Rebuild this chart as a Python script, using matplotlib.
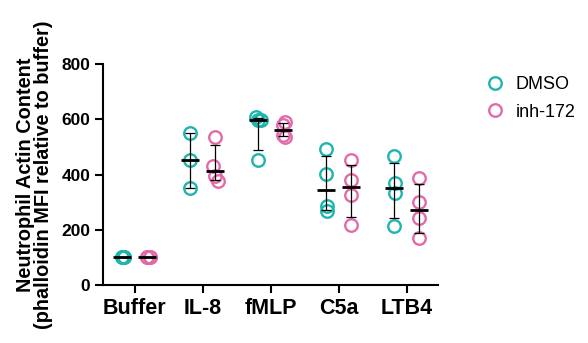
import numpy as np
import matplotlib
matplotlib.use('Agg')
from matplotlib import pyplot as plt

plt.rcParams['font.family'] = ['Liberation Sans', 'DejaVu Sans']

categories = ['Buffer', 'IL-8', 'fMLP', 'C5a', 'LTB4']
dmso = [[100, 100, 100, 100],
        [549, 453, 351],
        [453, 596, 599, 608],
        [491, 401, 287, 269],
        [467, 369, 335, 212]]
inh172 = [[100, 100, 100, 100],
          [535, 430, 394, 375],
          [590, 578, 545, 537],
          [453, 381, 326, 218],
          [387, 299, 242, 170]]

teal = '#1db5ad'
pink = '#e36aa8'


def spread(vals, thresh=45, step=0.035):
    # clusters of overlapping circles get fanned out round the centre
    vals = np.asarray(vals, float)
    order = np.argsort(vals)
    offs = np.zeros(len(vals))
    clusters = [[order[0]]]
    for a, b in zip(order[:-1], order[1:]):
        if vals[b] - vals[a] < thresh:
            clusters[-1].append(b)
        else:
            clusters.append([b])
    for c in clusters:
        n = len(c)
        s = step if n < 4 else step * 0.6
        for j, idx in enumerate(c):
            offs[idx] = (j - (n - 1) / 2) * s * (1 if j % 2 else -1)
    return offs


fig = plt.figure(figsize=(5.88, 3.43), dpi=100)
ax = fig.add_axes([0.175, 0.169, 0.570, 0.644])

for series, color, shift, label in [(dmso, teal, -0.184, 'DMSO'),
                                    (inh172, pink, 0.184, 'inh-172')]:
    for i, vals in enumerate(series):
        vals = np.asarray(vals, float)
        x = i + shift
        ax.plot(x + spread(vals), vals, 'o', ms=9, mfc='none', mec=color,
                mew=1.7, label=label if i == 0 else None, zorder=2)
        med = np.median(vals)
        q1, q3 = np.percentile(vals, [25, 75], method='weibull')
        ax.errorbar(x, med, yerr=[[med - q1], [q3 - med]], fmt='none',
                    ecolor='black', elinewidth=0.9, capsize=3.3,
                    capthick=0.9, zorder=3)
        ax.plot(x, med, marker='_', ms=13, mew=2, color='black', zorder=4)

ax.set_xlim(-0.47, 4.46)
ax.set_ylim(0, 800)
ax.set_yticks([0, 200, 400, 600, 800])
ax.set_xticks(range(len(categories)))
ax.set_xticklabels(categories, fontsize=15.5, fontweight='bold')
for t in ax.get_yticklabels():
    t.set_fontsize(12.5)
    t.set_fontweight('bold')
ax.tick_params(width=1.5, length=6, pad=3)
ax.spines['top'].set_visible(False)
ax.spines['right'].set_visible(False)
ax.spines['left'].set_linewidth(1.5)
ax.spines['bottom'].set_linewidth(1.5)
ax.set_ylabel('Neutrophil Actin Content\n(phalloidin MFI relative to buffer)',
              fontsize=14.3, fontweight='bold', labelpad=6, linespacing=0.92)

fig.legend(loc='upper left', bbox_to_anchor=(0.815, 0.80), frameon=False,
           fontsize=13, handlelength=1.0, handletextpad=0.6,
           labelspacing=0.6, borderaxespad=0)

fig.savefig('out.png', dpi=100)
